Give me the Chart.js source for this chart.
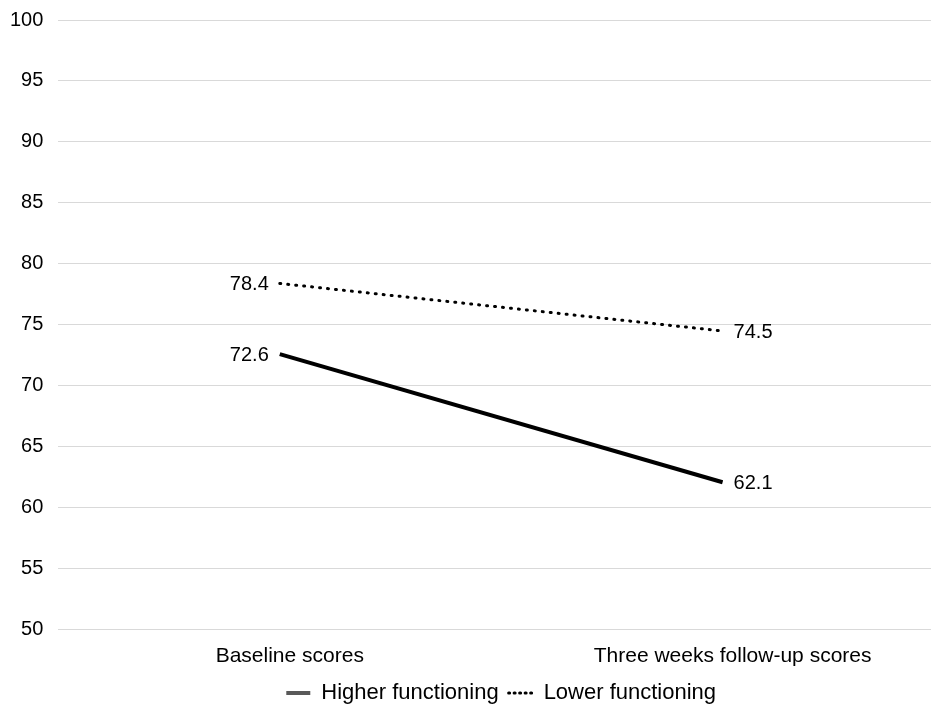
<!DOCTYPE html>
<html>
<head>
<meta charset="utf-8">
<script src="https://cdn.jsdelivr.net/npm/chart.js@4"></script>
<style>
  html, body { margin: 0; padding: 0; background: #fff; overflow: hidden; }
  #wrap { width: 944px; height: 723px; margin-top: -7px; }
</style>
</head>
<body>
<div id="wrap"><canvas id="scoreChart"></canvas></div>
<script>
// Data
const categories = ['Baseline scores', 'Three weeks follow-up scores'];
const higherFunctioning = [72.6, 62.1];
const lowerFunctioning = [78.4, 74.5];
const yTicks = [50, 55, 60, 65, 70, 75, 80, 85, 90, 95, 100];

Chart.defaults.font.family = '"Liberation Sans", Arial, sans-serif';
Chart.defaults.font.size = 20;
Chart.defaults.color = '#000';

// Value labels: left of first point, right of last point
const pointLabels = {
    id: 'pointLabels',
    afterDatasetsDraw(chart) {
        const ctx = chart.ctx;
        ctx.save();
        ctx.font = '20px "Liberation Sans", Arial, sans-serif';
        ctx.fillStyle = '#000';
        ctx.textBaseline = 'middle';
        chart.data.datasets.forEach((ds, i) => {
            chart.getDatasetMeta(i).data.forEach((pt, j) => {
                const left = j === 0;
                ctx.textAlign = left ? 'right' : 'left';
                ctx.fillText(ds.data[j].toFixed(1), pt.x + (left ? -11 : 11), pt.y + 1);
            });
        });
        ctx.restore();
    }
};

const scoreConfig = {
    type: 'line',
    data: {
        labels: categories,
        datasets: [{
            label: 'Higher functioning',
            data: higherFunctioning,
            borderColor: '#000',
            borderWidth: 4,
            pointRadius: 0,
            legendColor: '#595959'
        }, {
            label: 'Lower functioning',
            data: lowerFunctioning,
            borderColor: '#000',
            borderWidth: 3,
            borderDash: [1, 7],
            borderCapStyle: 'round',
            pointRadius: 0,
            legendColor: '#000'
        }]
    },
    options: {
        responsive: true,
        maintainAspectRatio: false,
        animation: false,
        layout: { padding: { left: -5, right: 0, top: 3, bottom: 2 } },
        scales: {
            x: {
                offset: true,
                grid: { display: false, offset: true },
                border: { display: false },
                ticks: { padding: 6, labelOffset: 10, font: { size: 21 }, maxRotation: 0 },
                afterFit: (scale) => { scale.height -= 3; }
            },
            y: {
                min: 50,
                max: 100,
                afterBuildTicks: (axis) => { axis.ticks = yTicks.map(v => ({ value: v })); },
                grid: { color: '#d9d9d9', lineWidth: 1, drawTicks: false },
                border: { display: false },
                ticks: { padding: 15, font: { size: 20 } }
            }
        },
        plugins: {
            tooltip: { enabled: false },
            legend: {
                position: 'bottom',
                fullSize: false,
                labels: {
                    usePointStyle: true,
                    pointStyleWidth: 24,
                    padding: 10,
                    font: { size: 22 },
                    generateLabels: (chart) => chart.data.datasets.map((ds, i) => ({
                        text: ds.label,
                        datasetIndex: i,
                        pointStyle: 'line',
                        strokeStyle: ds.legendColor,
                        fillStyle: ds.legendColor,
                        lineWidth: ds.borderWidth,
                        lineDash: ds.borderDash ? [1, 4.5] : [],
                        lineCap: ds.borderCapStyle || 'butt',
                        fontColor: '#000'
                    }))
                }
            }
        }
    },
    plugins: [pointLabels]
};

const scoreChart = new Chart(
    document.getElementById('scoreChart'),
    scoreConfig
);
</script>
</body>
</html>
